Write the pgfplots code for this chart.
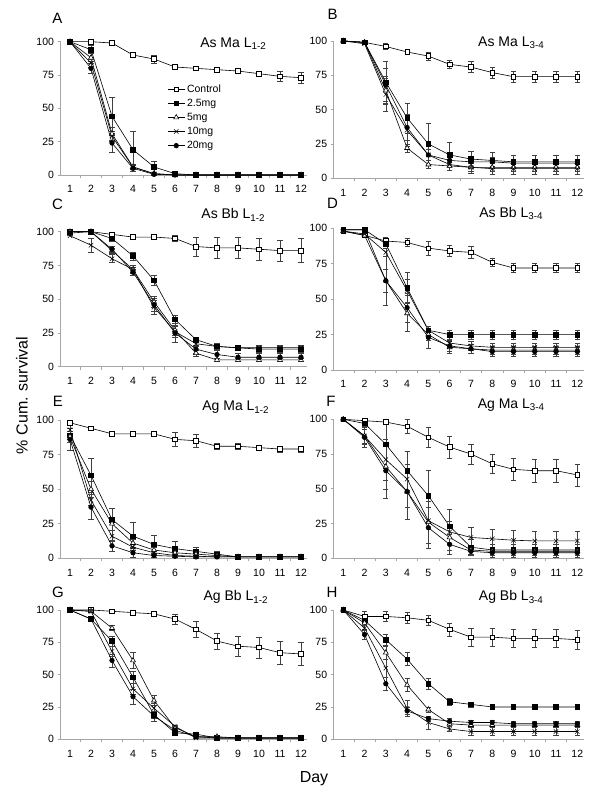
\documentclass[border=0pt]{standalone}
\usepackage{fontspec}
\setmainfont{Liberation Sans}
\usepackage{pgfplots}
\usepackage{pgfplotstable}
\pgfplotsset{compat=1.18}

% columns: day, control, 2.5mg, 5mg, 10mg, 20mg (value and error)
\pgfplotstableread{
d c ce p pe q qe r re s se
1 100 0 100 0 100 0 100 0 100 0
2 100 0 94 3 88 3 84 3 80 4
3 99 0 44 14 31 5 29 4 24 7
4 90 2 19 14 6 2 6 2 5 2
5 87 3 6 4 1 1 1 1 0.5 0.5
6 81 0 1 1 0 0 0 0 0 0
7 80 0 0 0 0 0 0 0 0 0
8 79 0 0 0 0 0 0 0 0 0
9 78 0 0 0 0 0 0 0 0 0
10 76 1 0 0 0 0 0 0 0 0
11 74 4 0 0 0 0 0 0 0 0
12 73 4 0 0 0 0 0 0 0 0
}\tabA
\pgfplotstableread{
d c ce p pe q qe r re s se
1 100 0 100 0 100 0 100 0 100 0
2 99 1 99 0 99 0 98 0 99 0
3 96 2 70 15 64 10 61 12 68 12
4 92 2 44 11 22 3 35 12 37 9
5 89 3 25 15 10 3 17 4 17 4
6 83 3 17 9 9 3 10 4 13 3
7 81 4 14 6 8 3 8 4 12 3
8 77 4 13 6 8 3 7 4 12 3
9 74 4 12 5 8 3 7 4 11 3
10 74 4 12 5 8 3 7 4 11 3
11 74 4 12 5 8 3 7 4 11 3
12 74 4 12 5 8 3 7 4 11 3
}\tabB
\pgfplotstableread{
d c ce p pe q qe r re s se
1 100 0 100 0 100 0 97 0 99 0
2 100 0 100 0 100 0 90 5 100 0
3 98 1 95 2 86 2 80 3 87 2
4 96 1 82 3 72 2 72 3 70 2
5 96 1 64 4 48 4 44 5 46 5
6 95 2 35 3 27 4 26 4 25 7
7 89 7 20 2 10 2 17 2 13 3
8 88 8 15 2 5 1 15 2 9 3
9 88 8 14 2 5 1 14 2 7 3
10 87 8 13 2 5 1 14 2 7 3
11 86 8 13 2 5 1 14 2 7 3
12 86 9 13 2 5 1 14 2 7 3
}\tabC
\pgfplotstableread{
d c ce p pe q qe r re s se
1 98 1 99 0 98 0 98 0 99 0
2 95 1 99 0 95 1 96 1 99 0
3 91 3 89 2 63 17 83 3 63 8
4 90 3 58 11 40 13 56 8 44 10
5 86 5 28 3 25 4 28 3 23 8
6 84 4 25 3 16 4 19 3 17 4
7 83 4 25 3 15 3 17 3 15 3
8 76 3 25 3 14 3 16 3 13 3
9 72 3 25 3 14 3 16 3 13 3
10 72 3 25 3 14 3 16 3 13 3
11 72 3 25 3 14 3 16 3 13 3
12 72 3 25 3 14 3 16 3 13 3
}\tabD
\pgfplotstableread{
d c ce p pe q qe r re s se
1 98 1 89 3 88 4 93 4 86 8
2 94 1 60 12 50 6 42 4 37 9
3 90 2 28 8 25 5 16 4 9 4
4 90 2 16 10 11 3 8 2 4 3
5 90 2 10 7 6 2 4 1 2 1
6 86 5 7 5 4 1 2 1 1.5 1
7 85 5 5 3 3 1 1.5 1 1 1
8 81 2 3 2 2 1 1 0 1 0
9 81 2 1 1 1 0 1 0 1 0
10 80 2 1 1 1 0 1 0 1 0
11 79 2 1 1 1 0 1 0 1 0
12 79 2 1 1 1 0 1 0 1 0
}\tabE
\pgfplotstableread{
d c ce p pe q qe r re s se
1 100 0 100 0 100 0 100 0 100 0
2 99 1 97 2 88 5 88 6 87 7
3 98 1 82 17 66 16 71 15 63 20
4 95 5 63 14 48 20 57 20 48 20
5 87 7 45 18 26 15 27 16 22 15
6 80 8 23 12 15 9 19 8 10 7
7 75 7 8 6 6 3 15 7 5 3
8 68 7 6 4 5 3 14 7 4 3
9 64 8 6 4 5 3 13 7 4 3
10 63 8 6 4 5 3 12.5 7 4 3
11 63 8 6 4 5 3 12.5 7 4 3
12 60 8 6 4 5 3 12.5 7 4 3
}\tabF
\pgfplotstableread{
d c ce p pe q qe r re s se
1 100 0 100 0 100 0 100 0 100 0
2 100 0 93 1 99 0 99 0 93 1
3 99 0 76 4 86 2 68 4 61 5
4 98 1 48 5 61 6 39 4 33 6
5 97 2 19 3 30 4 24 4 18 4
6 93 4 5 1 9 1 10 1 7 1
7 85 6 4 1 2 1 1 0 2 1
8 76 6 1 0 2 0 1 0 1 0
9 72 8 1 0 1 0 1 0 1 0
10 71 8 1 0 1 0 1 0 1 0
11 67 9 1 0 1 0 1 0 1 0
12 66 9 1 0 1 0 1 0 1 0
}\tabG
\pgfplotstableread{
d c ce p pe q qe r re s se
1 100 0 100 0 100 0 100 0 100 0
2 95 4 92 2 90 2 86 2 81 4
3 95 4 77 4 67 5 55 7 43 5
4 94 4 62 5 42 5 24 6 22 3
5 92 4 43 4 23 2 13 5 16 2
6 85 5 29 3 12 2 8 2 14 2
7 79 7 27 2 11 2 6 3 13 2
8 79 7 25 2 11 2 6 3 13 2
9 78 7 25 2 11 2 6 3 12 2
10 78 7 25 2 11 2 6 3 12 2
11 78 7 25 2 11 2 6 3 12 2
12 77 7 25 2 11 2 6 3 12 2
}\tabH

\pgfplotsset{
  errb/.style={
    /pgfplots/error bars/y dir=both,
    /pgfplots/error bars/y explicit,
    /pgfplots/error bars/error bar style={line width=0.5pt, black!75, solid},
    /pgfplots/error bars/error mark options={rotate=90, mark size=2.6pt, line width=0.5pt, black!75},
  },
  ser/.style={black, line width=0.6pt, mark options={solid, line width=0.5pt}},
  sc/.style={ser, mark=square*, mark size=2.3pt, mark options={fill=white, draw=black}, errb},
  sp/.style={ser, mark=square*, mark size=2.3pt, mark options={fill=black}, errb},
  sq/.style={ser, mark=triangle*, mark size=2.9pt, mark options={fill=white, draw=black}, errb},
  sr/.style={ser, mark=x, mark size=3.1pt, errb},
  ss/.style={ser, mark=*, mark size=2.3pt, mark options={fill=black}, errb},
  panel/.style={
    scale only axis, clip=false, anchor=south west,
    xmin=0.55, xmax=12.3, ymin=0, ymax=100,
    axis x line*=bottom, axis y line*=left,
    axis line style={gray!70, line width=0.6pt},
    xtick={1,...,12},
    minor xtick={1.5,2.5,...,11.5},
    major x tick style={draw=none},
    ytick={0,25,50,75,100},
    tick align=outside,
    tick style={gray!70, line width=0.6pt},
    major tick length=3pt, minor tick length=3pt,
    tick label style={font=\fontsize{10.5}{10.5}\selectfont, black},
    xticklabel style={yshift=-4pt},
    /pgf/number format/assume math mode=true,
  },
}
\tikzset{ttl/.style={font=\fontsize{14}{14}\selectfont}}

\newcommand{\fiveseries}[1]{%
  \addplot[sc] table[x=d,y=c,y error=ce]{#1};
  \addplot[sp] table[x=d,y=p,y error=pe]{#1};
  \addplot[sq] table[x=d,y=q,y error=qe]{#1};
  \addplot[sr] table[x=d,y=r,y error=re]{#1};
  \addplot[ss] table[x=d,y=s,y error=se]{#1};
}

\begin{document}
\begin{tikzpicture}[x=1pt,y=1pt]
\useasboundingbox (0pt,0pt) rectangle (600pt,800pt);

% A
\begin{axis}[panel, at={(60.55pt,625pt)}, width=246.75pt, height=133.3pt,
  legend style={at={(0.42,0.71)}, anchor=north west, draw=none, fill=none,
    font=\fontsize{10.5}{10.5}\selectfont, row sep=1.3pt},
  legend cell align=left]
\fiveseries{\tabA}
\legend{Control,2.5mg,5mg,10mg,20mg}
\node[ttl] at (rel axis cs:0.70,0.985) {As Ma L\textsubscript{1-2}};
\end{axis}

% B
\begin{axis}[panel, at={(333.7pt,621.7pt)}, width=250pt, height=137.3pt]
\fiveseries{\tabB}
\node[ttl] at (rel axis cs:0.71,0.985) {As Ma L\textsubscript{3-4}};
\end{axis}

% C
\begin{axis}[panel, at={(60.55pt,433.3pt)}, width=246.75pt, height=135pt]
\fiveseries{\tabC}
\node[ttl] at (rel axis cs:0.70,1.124) {As Bb L\textsubscript{1-2}};
\end{axis}

% D
\begin{axis}[panel, at={(333.7pt,430pt)}, width=250pt, height=141.7pt]
\fiveseries{\tabD}
\node[ttl] at (rel axis cs:0.71,1.106) {As Bb L\textsubscript{3-4}};
\end{axis}

% E
\begin{axis}[panel, at={(60.55pt,241.7pt)}, width=246.75pt, height=138.3pt]
\fiveseries{\tabE}
\node[ttl] at (rel axis cs:0.71,1.09) {Ag Ma L\textsubscript{1-2}};
\end{axis}

% F
\begin{axis}[panel, at={(333.7pt,241.7pt)}, width=250pt, height=139pt]
\fiveseries{\tabF}
\node[ttl] at (rel axis cs:0.71,1.10) {Ag Ma L\textsubscript{3-4}};
\end{axis}

% G
\begin{axis}[panel, at={(60.55pt,60.7pt)}, width=246.75pt, height=129.3pt]
\fiveseries{\tabG}
\node[ttl] at (rel axis cs:0.71,1.098) {Ag Bb L\textsubscript{1-2}};
\end{axis}

% H
\begin{axis}[panel, at={(333.7pt,60.7pt)}, width=250pt, height=129.3pt]
\fiveseries{\tabH}
\node[ttl] at (rel axis cs:0.71,1.098) {Ag Bb L\textsubscript{3-4}};
\end{axis}

% panel letters
\begin{scope}[every node/.style={font=\fontsize{15}{15}\selectfont}]
\node at (57.5pt,781.7pt) {A};
\node at (332.5pt,785.5pt) {B};
\node at (57.5pt,596pt) {C};
\node at (332.5pt,597pt) {D};
\node at (58pt,399pt) {E};
\node at (331pt,399pt) {F};
\node at (58pt,208pt) {G};
\node at (332pt,208pt) {H};
\end{scope}

\node[rotate=90, font=\fontsize{16}{16}\selectfont] at (22pt,404.5pt) {\% Cum. survival};
\node[font=\fontsize{16}{16}\selectfont] at (314pt,21pt) {Day};
\end{tikzpicture}
\end{document}
